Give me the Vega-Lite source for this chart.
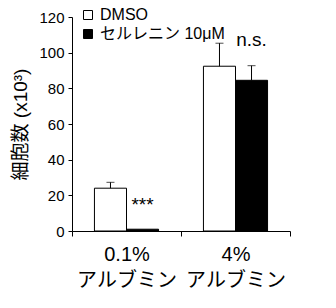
{
  "$schema": "https://vega.github.io/schema/vega-lite/v6.json",
  "width": 218,
  "height": 214,
  "autosize": "none",
  "padding": {"left": 72, "top": 17, "right": 46, "bottom": 77},
  "background": "white",
  "config": {
    "view": {"stroke": null},
    "font": "Liberation Sans, Noto Sans CJK JP",
    "axis": {"domainColor": "black", "tickColor": "black", "labelColor": "black", "titleColor": "black", "grid": false, "labelFont": "Liberation Sans, Noto Sans CJK JP", "titleFont": "Liberation Sans, Noto Sans CJK JP"},
    "axisY": {"labelOverlap": false, "tickSize": 4, "labelFontSize": 15, "labelPadding": 4, "titleFontSize": 19, "titleFontWeight": "normal", "titlePadding": 8}
  },
  "datasets": {
    "bars": [
      {"group": "0.1%", "treatment": "DMSO", "value": 24, "upper": 27.3},
      {"group": "0.1%", "treatment": "セルレニン", "value": 1, "upper": 1},
      {"group": "4%", "treatment": "DMSO", "value": 92.4, "upper": 105.3},
      {"group": "4%", "treatment": "セルレニン", "value": 84.5, "upper": 92.7}
    ],
    "notes": [
      {"group": "0.1%", "treatment": "セルレニン", "y": 11, "label": "***"},
      {"group": "4%", "treatment": "セルレニン", "y": 104, "label": "n.s."}
    ]
  },
  "encoding": {
    "x": {"field": "group", "type": "nominal", "sort": ["0.1%", "4%"],
      "scale": {"domain": ["0.1%", "4%"], "paddingInner": 0, "paddingOuter": 0},
      "axis": {"title": null, "labelAngle": 0, "tickBand": "extent", "tickSize": 5, "labelFontSize": 20, "labelPadding": 8, "labelLineHeight": 26, "labelOverlap": false, "labelExpr": "datum.label == '0.1%' || datum.label == '4%' ? [datum.label, 'アルブミン'] : ''", "labelBaseline": "top"}},
    "xOffset": {"field": "treatment", "type": "nominal", "scale": {"domain": ["DMSO", "セルレニン"], "paddingInner": 0, "paddingOuter": 0.7}}
  },
  "layer": [
    {
      "data": {"name": "bars"},
      "mark": {"type": "bar", "stroke": "black", "strokeWidth": 1},
      "encoding": {
        "y": {"field": "value", "type": "quantitative",
          "scale": {"domain": [0, 120], "nice": false, "zero": true},
          "axis": {"title": "細胞数 (x10³)", "values": [0, 20, 40, 60, 80, 100, 120], "titleFontSize": 19}},
        "fill": {"field": "treatment", "type": "nominal",
          "scale": {"domain": ["DMSO", "セルレニン"], "range": ["white", "black"]},
          "legend": {"title": null, "orient": "none", "legendX": 8, "legendY": -10, "symbolType": "square", "symbolSize": 81, "symbolStrokeColor": "black", "symbolStrokeWidth": 1, "labelFontSize": 16, "labelColor": "black", "labelOffset": 4, "rowPadding": 3, "labelLimit": 300, "labelExpr": "datum.label == 'DMSO' ? 'DMSO' : 'セルレニン 10μM'"}}
      }
    },
    {
      "data": {"name": "bars"},
      "transform": [{"filter": "datum.upper > datum.value"}],
      "mark": {"type": "rule", "color": "black", "strokeWidth": 1},
      "encoding": {
        "y": {"field": "value", "type": "quantitative", "axis": {"title": "細胞数 (x10³)", "values": [0, 20, 40, 60, 80, 100, 120], "titleFontSize": 19}},
        "y2": {"field": "upper"}
      }
    },
    {
      "data": {"name": "bars"},
      "transform": [{"filter": "datum.upper > datum.value"}],
      "mark": {"type": "tick", "color": "black", "thickness": 1, "size": 8, "orient": "horizontal"},
      "encoding": {
        "y": {"field": "upper", "type": "quantitative", "axis": {"title": "細胞数 (x10³)", "values": [0, 20, 40, 60, 80, 100, 120], "titleFontSize": 19}}
      }
    },
    {
      "data": {"name": "notes"},
      "mark": {"type": "text", "fontSize": 19, "color": "black", "baseline": "alphabetic", "font": "Liberation Sans"},
      "encoding": {
        "y": {"field": "y", "type": "quantitative", "axis": {"title": "細胞数 (x10³)", "values": [0, 20, 40, 60, 80, 100, 120], "titleFontSize": 19}},
        "text": {"field": "label"}
      }
    }
  ]
}
